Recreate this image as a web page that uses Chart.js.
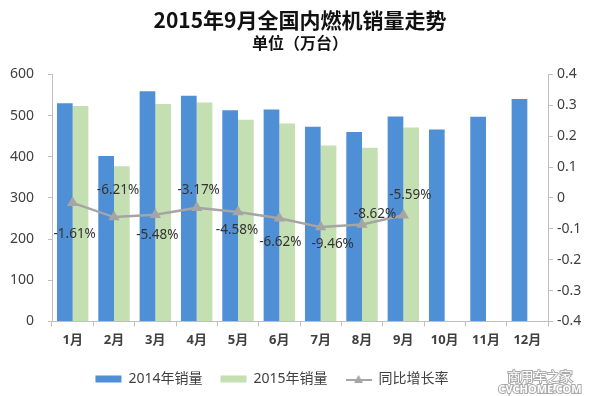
<!DOCTYPE html>
<html>
<head>
<meta charset="utf-8">
<script src="https://cdn.jsdelivr.net/npm/chart.js@4/dist/chart.umd.min.js"></script>
<style>
  html, body { margin: 0; background: #fff; }
  #wrap { width: 600px; height: 396px; }
</style>
</head>
<body>
<div id="wrap"><canvas id="chart"></canvas></div>
<script>
const months = ['1月', '2月', '3月', '4月', '5月', '6月', '7月', '8月', '9月', '10月', '11月', '12月'];
const sales2014 = [530, 402, 559, 548, 513, 515, 473, 460, 498, 466, 497, 540];
const sales2015 = [523, 377, 528, 532, 490, 481, 427, 422, 471, null, null, null];
const growth = [-0.0161, -0.0621, -0.0548, -0.0317, -0.0458, -0.0662, -0.0946, -0.0862, -0.0559, null, null, null];

const FONT = '"Noto Sans", "Noto Sans CJK SC", sans-serif';
const CJK = '"Noto Sans CJK SC", sans-serif';

// where each percentage label sits relative to its point
const labelOffsets = [[2, 31], [4, -27], [2, 20], [2, -18], [-1, 18], [1, 24], [12, 17], [13, -10], [7, -20]];

function lineLegendIcon() {
    const c = document.createElement('canvas');
    c.width = 26; c.height = 10;
    const g = c.getContext('2d');
    g.strokeStyle = '#a5a5a5';
    g.lineWidth = 2;
    g.beginPath(); g.moveTo(0, 6); g.lineTo(26, 6); g.stroke();
    g.fillStyle = '#a5a5a5';
    g.beginPath(); g.moveTo(13, 1); g.lineTo(17.5, 9); g.lineTo(8.5, 9); g.closePath(); g.fill();
    return c;
}

const rateLabels = {
    id: 'rateLabels',
    afterDatasetsDraw(chart) {
        const meta = chart.getDatasetMeta(2);
        const ctx = chart.ctx;
        ctx.save();
        ctx.font = '13.5px ' + FONT;
        ctx.fillStyle = '#333';
        ctx.textAlign = 'center';
        ctx.textBaseline = 'middle';
        meta.data.forEach((pt, i) => {
            if (growth[i] === null) return;
            const off = labelOffsets[i] || [0, -15];
            ctx.fillText((growth[i] * 100).toFixed(2) + '%', pt.x + off[0], pt.y + off[1]);
        });
        ctx.restore();
    }
};

const watermark = {
    id: 'watermark',
    afterDraw(chart) {
        const ctx = chart.ctx;
        ctx.save();
        ctx.textAlign = 'center';
        ctx.textBaseline = 'middle';
        ctx.lineWidth = 2;
        ctx.strokeStyle = 'rgba(150,150,150,0.8)';
        ctx.fillStyle = '#fff';
        ctx.font = '13px ' + CJK;
        ctx.strokeText('商用车之家', 540, 376);
        ctx.fillText('商用车之家', 540, 376);
        ctx.font = 'bold 11px ' + FONT;
        ctx.strokeText('CVCHOME.COM', 540, 390);
        ctx.fillText('CVCHOME.COM', 540, 390);
        ctx.restore();
    }
};

const legendShift = {
    id: 'legendShift',
    afterLayout(chart) {
        chart.legend.left -= 28;
        chart.legend.right -= 28;
    }
};

const axisColor = '#bfbfbf';
const tickColor = '#404040';

new Chart(document.getElementById('chart').getContext('2d'), {
    type: 'bar',
    data: {
        labels: months,
        datasets: [{
            label: '2014年销量',
            data: sales2014,
            backgroundColor: '#4f8fd5',
            yAxisID: 'y',
            order: 1,
            categoryPercentage: 0.76,
            barPercentage: 1.0
        }, {
            label: '2015年销量',
            data: sales2015,
            backgroundColor: '#c4dfb1',
            yAxisID: 'y',
            order: 1,
            categoryPercentage: 0.76,
            barPercentage: 1.0
        }, {
            type: 'line',
            label: '同比增长率',
            data: growth,
            yAxisID: 'y1',
            order: 0,
            borderColor: '#a5a5a5',
            backgroundColor: '#a5a5a5',
            borderWidth: 2.5,
            pointStyle: 'triangle',
            pointRadius: 4,
            pointBackgroundColor: '#a5a5a5',
            pointBorderColor: '#a5a5a5',
            tension: 0,
            spanGaps: false
        }]
    },
    options: {
        responsive: true,
        maintainAspectRatio: false,
        animation: false,
        layout: { padding: { left: 0, right: 0, top: 0, bottom: 0 } },
        plugins: {
            title: {
                display: true,
                text: '2015年9月全国内燃机销量走势',
                color: '#111',
                font: { family: CJK, size: 21, weight: 'bold' },
                padding: { top: 7, bottom: 0 }
            },
            subtitle: {
                display: true,
                text: '单位（万台）',
                color: '#111',
                font: { family: CJK, size: 16, weight: 'bold' },
                padding: { top: 1, bottom: 22 }
            },
            legend: {
                position: 'bottom',
                labels: {
                    usePointStyle: true,
                    pointStyleWidth: 26,
                    boxHeight: 7,
                    padding: 18,
                    color: '#404040',
                    font: { family: FONT, size: 14 },
                    sort: (a, b) => a.datasetIndex - b.datasetIndex,
                    generateLabels(chart) {
                        const items = Chart.defaults.plugins.legend.labels.generateLabels(chart);
                        items.forEach(it => {
                            if (it.datasetIndex === 2) it.pointStyle = lineLegendIcon();
                            else it.pointStyle = 'rect';
                            it.lineWidth = 0;
                        });
                        return items;
                    }
                }
            },
            tooltip: { enabled: false }
        },
        scales: {
            x: {
                grid: { display: true, drawOnChartArea: false, tickLength: 5, color: axisColor },
                border: { color: axisColor },
                ticks: { color: tickColor, font: { family: FONT, size: 13, weight: 'bold' }, padding: 6 }
            },
            y: {
                position: 'left',
                min: 0,
                max: 600,
                grid: { display: true, drawOnChartArea: false, tickLength: 4, color: axisColor },
                border: { color: axisColor },
                ticks: { stepSize: 100, color: tickColor, font: { family: FONT, size: 14 }, padding: 14 },
                afterFit(s) { s.width = 52; }
            },
            y1: {
                position: 'right',
                min: -0.4,
                max: 0.4,
                grid: { display: true, drawOnChartArea: false, tickLength: 5, color: axisColor },
                border: { color: axisColor },
                ticks: {
                    stepSize: 0.1,
                    color: tickColor,
                    font: { family: FONT, size: 14 },
                    padding: 4,
                    callback: v => String(Math.round(v * 10) / 10)
                },
                afterFit(s) { s.width = 52; }
            }
        }
    },
    plugins: [rateLabels, watermark, legendShift]
});
</script>
</body>
</html>
